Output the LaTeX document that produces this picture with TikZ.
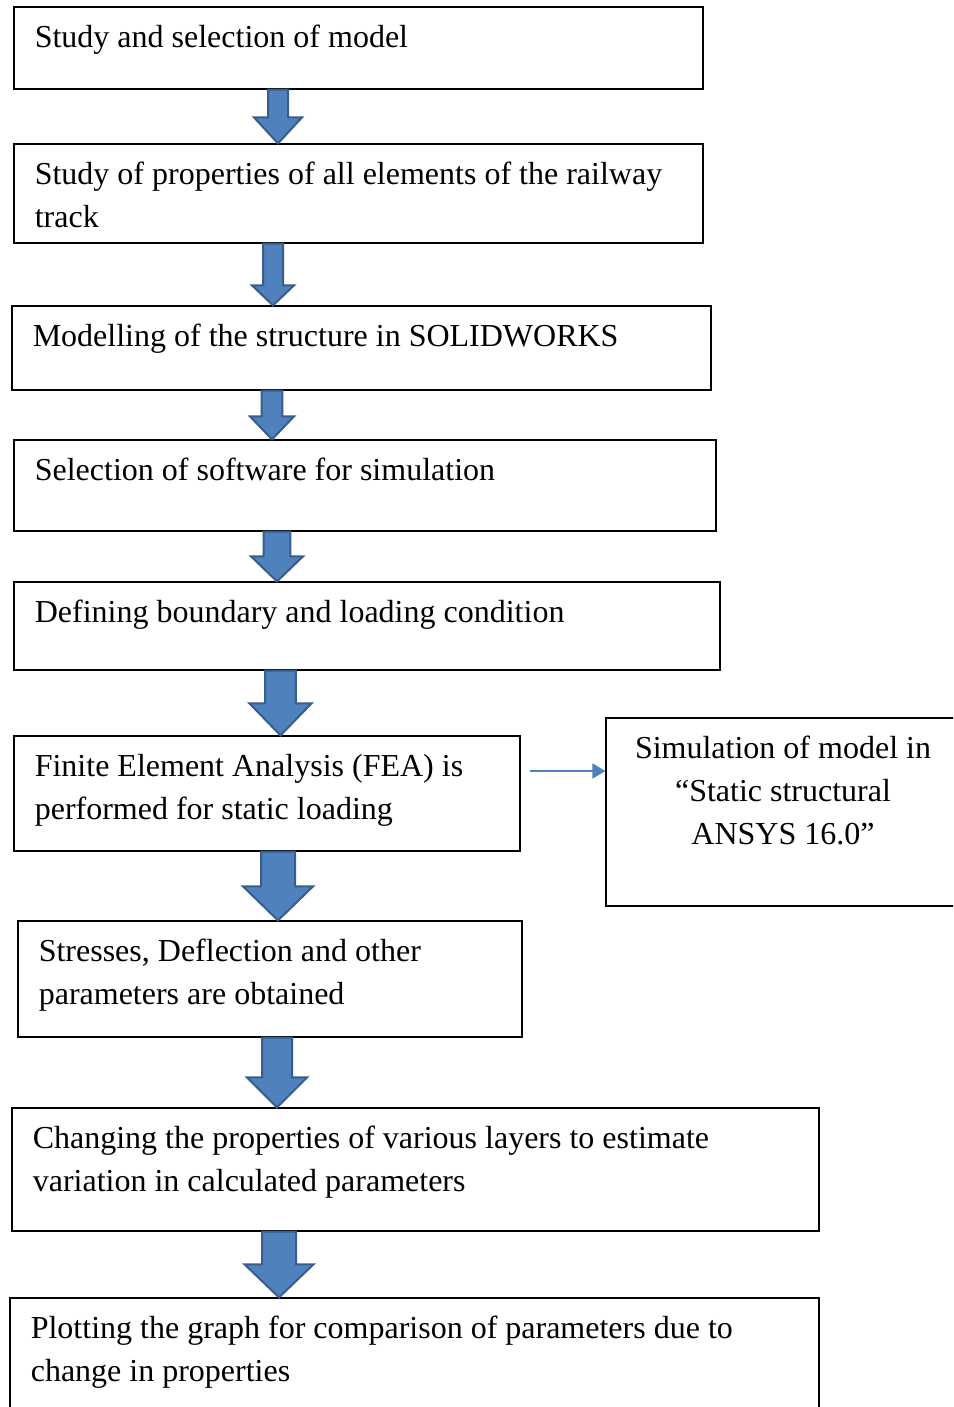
\documentclass[tikz,border=0pt]{standalone}
\usepackage{fontspec}
\setmainfont{Liberation Serif}
\usepackage{tikz}
\usetikzlibrary{fit,calc,arrows.meta}

\definecolor{arrowfill}{HTML}{4F81BD}
\definecolor{arrowline}{HTML}{385D8A}

\begin{document}
\begin{tikzpicture}
[x=0.5pt,y=-0.5pt,
					stepbox/.style={draw=black,line width=0.6pt,inner sep=0pt},
					steptext/.style={inner sep=0pt,anchor=base west,align=left,font=\fontsize{16}{21.5}\selectfont},
					simtext/.style={inner sep=0pt,anchor=base,align=center,font=\fontsize{16}{21.5}\selectfont},
					blkarrow/.style={fill=arrowfill,draw=arrowline,line width=1pt,line join=miter},
					thinarrow/.style={draw=arrowfill,line width=0.8pt,-{Triangle[length=6.5pt,width=7.5pt]}}]
					\useasboundingbox (0,0) rectangle (953,1407);
					\clip (0,0) rectangle (953,1407);
					% base of a two-line text is its last line
					\node[stepbox,fit={(14,7) (703,89)}] (b1) {};
					\node[steptext] (t1) at ([shift={(21,41)}]b1.north west) {Study and selection of model};
					\node[stepbox,fit={(14,144) (703,243)}] (b2) {};
					\node[steptext] (t2) at ([shift={(21,84)}]b2.north west) {Study of properties of all elements of the railway\\track};
					\node[stepbox,fit={(12,306) (711,390)}] (b3) {};
					\node[steptext] (t3) at ([shift={(21,41)}]b3.north west) {Modelling of the structure in SOLIDWORKS};
					\node[stepbox,fit={(14,440) (716,531)}] (b4) {};
					\node[steptext] (t4) at ([shift={(21,41)}]b4.north west) {Selection of software for simulation};
					\node[stepbox,fit={(14,582) (720,670)}] (b5) {};
					\node[steptext] (t5) at ([shift={(21,41)}]b5.north west) {Defining boundary and loading condition};
					\node[stepbox,fit={(14,736) (520,851)}] (b6) {};
					\node[steptext] (t6) at ([shift={(21,84)}]b6.north west) {Finite Element Analysis (FEA) is\\performed for static loading};
					\node[stepbox,fit={(18,921) (522,1037)}] (b7) {};
					\node[steptext] (t7) at ([shift={(21,84)}]b7.north west) {Stresses, Deflection and other\\parameters are obtained};
					\node[stepbox,fit={(12,1108) (819,1231)}] (b8) {};
					\node[steptext] (t8) at ([shift={(21,84)}]b8.north west) {Changing the properties of various layers to estimate\\variation in calculated parameters};
					\node[stepbox,fit={(10,1298) (819,1450)}] (b9) {};
					\node[steptext] (t9) at ([shift={(21,84)}]b9.north west) {Plotting the graph for comparison of parameters due to\\change in properties};
					% simulation box on the right
					\node[stepbox,fit={(606,718) (1000,906)}] (sim) {};
					\node[simtext] (simt) at (783,844) {Simulation of model in\\``Static structural\\ANSYS 16.0''};
					\coordinate (fea) at (530,771);
					\draw[thinarrow] (fea) -- (fea -| sim.west);
					% block arrows: from/to/x/half shaft/half head/head length
					\foreach \from/\to/\xc/\sh/\hh/\hl in {b1/b2/278/5/12/13, b2/b3/273/5/10.5/10, b3/b4/272/5.2/11/11.5, b4/b5/277/6.7/13/12.5, b5/b6/280.5/7.7/15.5/16, b6/b7/278/8.5/17.5/17, b7/b8/277/7.5/15/15, b8/b9/279/8.5/17.2/16.5}
					\path[blkarrow] let \p1=(\from.south), \p2=(\to.north), \p3=(\xc,0) in
						(\x3-\sh pt,\y1) -- (\x3+\sh pt,\y1) -- (\x3+\sh pt,\y2+\hl pt) -- (\x3+\hh pt,\y2+\hl pt)
						-- (\x3,\y2) -- (\x3-\hh pt,\y2+\hl pt) -- (\x3-\sh pt,\y2+\hl pt) -- cycle;
				\end{tikzpicture}
\end{document}
